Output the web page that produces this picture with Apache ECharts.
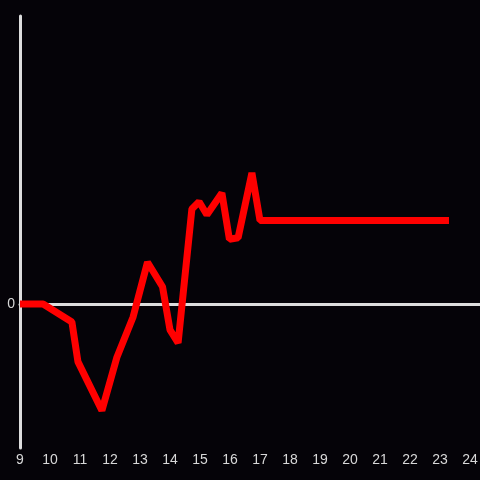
<!DOCTYPE html>
<html>
<head>
    <meta charset="utf-8">
    <style>
        html, body {
            width: 100%;
            height: 100%;
            margin: 0;
            background: #050308;
        }
        #chart-panel {
            width: 480px;
            height: 480px;
        }
    </style>
    <script src="https://cdn.jsdelivr.net/npm/echarts@6/dist/echarts.min.js"></script>
</head>
<body>
<div id="chart-panel"></div>
<script type="text/javascript">
  // values
  var hours = [9, 9.77, 10.73, 10.93, 11.73, 12.23, 12.77, 13.25, 13.75, 14.0, 14.27,
               14.73, 14.97, 15.23, 15.73, 15.98, 16.27, 16.73, 17.0, 23.3];
  var values = [0, 0, -0.125, -0.4, -0.74, -0.37, -0.09, 0.29, 0.12, -0.18, -0.27,
                0.66, 0.71, 0.62, 0.77, 0.45, 0.46, 0.91, 0.58, 0.58];

  var points = hours.map(function (h, i) { return [h, values[i]]; });

  var myChart = echarts.init(document.getElementById('chart-panel'));

  var option = {
    backgroundColor: '#050308',
    animation: false,
    grid: {
      left: 20,
      right: 0,
      top: 16,
      bottom: 32,
      outerBoundsMode: 'none'
    },
    xAxis: [{
      type: 'value',
      min: 9,
      max: 24.3333,
      interval: 1,
      axisLine: { show: false, onZero: false },
      axisTick: { show: false },
      splitLine: { show: false },
      axisLabel: {
        color: '#d8d8d8',
        fontSize: 14,
        fontFamily: 'Liberation Sans',
        margin: 5,
        formatter: function (v) { return Number.isInteger(v) ? String(v) : ''; }
      }
    }, {
      // zero line
      type: 'value',
      min: 9,
      max: 24.3333,
      axisLine: { show: true, onZero: true, lineStyle: { color: '#dddddd', width: 3 } },
      axisTick: { show: false },
      axisLabel: { show: false },
      splitLine: { show: false }
    }],
    yAxis: {
      type: 'value',
      min: -1,
      max: 2,
      interval: 1,
      axisLine: { show: true, lineStyle: { color: '#dddddd', width: 3 } },
      axisTick: { show: false },
      splitLine: { show: false },
      axisLabel: {
        color: '#d8d8d8',
        fontSize: 14,
        fontFamily: 'Liberation Sans',
        margin: 5,
        formatter: function (v) { return v === 0 ? '0' : ''; }
      }
    },
    series: [{
      type: 'line',
      data: points,
      symbol: 'none',
      lineStyle: { color: '#ff0000', width: 7 }
    }]
  };

  myChart.setOption(option);
</script>
</body>
</html>
